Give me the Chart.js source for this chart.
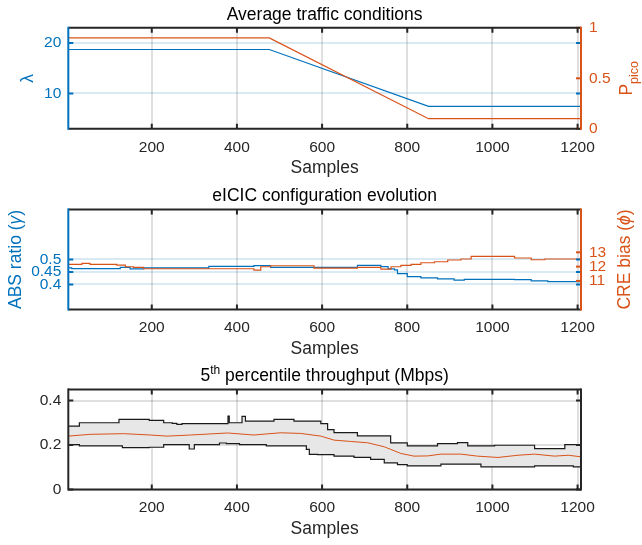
<!DOCTYPE html>
<html><head><meta charset="utf-8">
<script src="https://cdn.jsdelivr.net/npm/chart.js@4/dist/chart.umd.min.js"></script>
<style>
html,body{margin:0;padding:0;background:#fff;}
canvas{display:block;}
</style></head><body>
<canvas id="c1" width="642" height="180"></canvas>
<canvas id="c2" width="642" height="180"></canvas>
<canvas id="c3" width="642" height="185"></canvas>
<script>
// ---------- data ----------
const xTickValues = [200, 400, 600, 800, 1000, 1200];

// Panel 1: average traffic conditions
const trafficSamples = [4, 476, 850, 1208];
const lambdaValues   = [18.7, 18.7, 7.45, 7.45];
const picoValues     = [0.9, 0.9, 0.1, 0.1];
const lambdaTicks = [10, 20];
const picoTicks   = [0, 0.5, 1];

// Panel 2: eICIC configuration evolution
const absSamples = [4, 12, 126, 149, 181, 334, 440, 479, 683, 738, 755, 770, 777, 800, 832, 871, 910, 934, 1052, 1091, 1130, 1208];
const absValues  = [0.466, 0.463, 0.468, 0.462, 0.466, 0.472, 0.475, 0.468, 0.476, 0.471, 0.462, 0.458, 0.443, 0.4315, 0.426, 0.422, 0.417, 0.420, 0.419, 0.414, 0.411, 0.411];
const creSamples = [4, 36, 55, 118, 138, 157, 181, 440, 456, 479, 581, 683, 738, 762, 785, 809, 832, 864, 895, 926, 950, 1052, 1091, 1123, 1208];
const creValues  = [12.16, 12.23, 12.16, 12.11, 11.99, 11.95, 11.85, 11.76, 11.99, 12.06, 11.90, 11.95, 11.83, 11.99, 12.09, 12.16, 12.27, 12.34, 12.46, 12.53, 12.72, 12.60, 12.48, 12.53, 12.53];
const absTicks = [0.4, 0.45, 0.5];
const creTicks = [11, 12, 13];

// Panel 3: 5th percentile throughput
const upperSamples = [4, 30, 123, 194, 228, 248, 259, 271, 379, 382, 412, 420, 487, 534, 597, 613, 628, 683, 761, 800, 871, 918, 942, 1005, 1099, 1170, 1208];
const upperValues  = [0.285, 0.300, 0.315, 0.311, 0.300, 0.297, 0.293, 0.296, 0.330, 0.300, 0.329, 0.307, 0.315, 0.307, 0.296, 0.269, 0.256, 0.241, 0.210, 0.196, 0.206, 0.211, 0.196, 0.199, 0.184, 0.202, 0.202];
const lowerSamples = [4, 30, 131, 194, 228, 288, 300, 359, 375, 406, 469, 563, 570, 589, 628, 675, 714, 746, 777, 800, 879, 973, 1099, 1190, 1208];
const lowerValues  = [0.202, 0.196, 0.188, 0.190, 0.202, 0.182, 0.202, 0.209, 0.206, 0.202, 0.196, 0.180, 0.158, 0.157, 0.150, 0.144, 0.135, 0.120, 0.112, 0.106, 0.114, 0.102, 0.106, 0.102, 0.102];
const meanSamples  = [4, 55, 134, 197, 236, 291, 378, 440, 503, 550, 597, 628, 667, 707, 746, 785, 816, 848, 879, 926, 965, 1013, 1060, 1099, 1146, 1178, 1208];
const meanValues   = [0.240, 0.248, 0.251, 0.245, 0.240, 0.245, 0.254, 0.245, 0.255, 0.252, 0.240, 0.222, 0.216, 0.210, 0.192, 0.162, 0.150, 0.151, 0.159, 0.159, 0.150, 0.144, 0.154, 0.159, 0.150, 0.154, 0.147];
const thrTicks = [0, 0.2, 0.4];

// ---------- style ----------
const X_MIN = 4, X_MAX = 1208;
const BLUE = '#0072BD', ORANGE = '#D95319', INK = '#262626';
const FAM = '"Liberation Sans", Arial, Helvetica, sans-serif';
const TICK_FONT = {family: FAM, size: 15.5};
const GRID_GREY = 'rgba(38,38,38,0.15)';
const GRID_BLUE = 'rgba(0,114,189,0.15)';
const LBL = '17.5px ' + FAM;

function pts(xs, ys) { return xs.map((x, i) => ({x: x, y: ys[i]})); }
const fmt = v => String(Math.round(v * 1000) / 1000);

function xScale(h) {
  return {
    type: 'linear', position: 'bottom', min: X_MIN, max: X_MAX,
    afterBuildTicks: s => { s.ticks = xTickValues.map(v => ({value: v})); },
    afterFit: s => { s.height = h; },
    grid: {color: GRID_GREY, lineWidth: 2, drawTicks: false},
    border: {display: false},
    ticks: {autoSkip: false, maxRotation: 0, padding: 9.4, color: INK, font: TICK_FONT, callback: fmt}
  };
}
function yScale(pos, min, max, ticks, color, gridColor, width) {
  return {
    type: 'linear', position: pos, min: min, max: max,
    afterBuildTicks: s => { s.ticks = ticks.map(v => ({value: v})); },
    afterFit: s => { s.width = width; },
    grid: gridColor ? {color: gridColor, lineWidth: 2, drawTicks: false} : {display: false, drawTicks: false},
    border: {display: false},
    ticks: {autoSkip: false, padding: pos === 'left' ? 7 : 8, color: color, font: TICK_FONT, callback: fmt}
  };
}

function drawParts(ctx, parts, x, y, rot) {
  ctx.save();
  ctx.translate(x, y);
  ctx.rotate(rot || 0);
  ctx.textBaseline = 'middle';
  ctx.textAlign = 'left';
  let w = 0;
  parts.forEach(p => { ctx.font = p.font || LBL; p.w = ctx.measureText(p.t).width; w += p.w; });
  let cx = -w / 2;
  parts.forEach(p => {
    ctx.font = p.font || LBL;
    ctx.fillStyle = p.color;
    ctx.fillText(p.t, cx, p.dy || 0);
    cx += p.w;
  });
  ctx.restore();
}

function decor(cfg) {
  return {
    id: 'decor',
    afterDatasetsDraw(chart) {
      const ctx = chart.ctx;
      const {left, right, top, bottom} = chart.chartArea;
      const TL = 5;
      ctx.save();
      ctx.lineWidth = 2;
      ctx.lineCap = 'butt';
      ctx.strokeStyle = INK;
      chart.scales.x.ticks.forEach(t => {
        const px = chart.scales.x.getPixelForValue(t.value);
        ctx.beginPath();
        ctx.moveTo(px, bottom); ctx.lineTo(px, bottom - TL);
        ctx.moveTo(px, top); ctx.lineTo(px, top + TL);
        ctx.stroke();
      });
      const ys = chart.scales.y;
      ctx.strokeStyle = cfg.leftColor;
      ys.ticks.forEach(t => {
        const py = ys.getPixelForValue(t.value);
        ctx.beginPath();
        ctx.moveTo(left, py); ctx.lineTo(left + TL, py);
        ctx.moveTo(right, py); ctx.lineTo(right - TL, py);
        ctx.stroke();
      });
      if (chart.scales.y1) {
        const y1 = chart.scales.y1;
        ctx.strokeStyle = cfg.rightColor;
        y1.ticks.forEach(t => {
          const py = y1.getPixelForValue(t.value);
          ctx.beginPath();
          ctx.moveTo(right, py); ctx.lineTo(right - TL, py);
          ctx.stroke();
        });
      }
      ctx.strokeStyle = INK;
      ctx.beginPath();
      ctx.moveTo(left, top); ctx.lineTo(right, top);
      ctx.moveTo(left, bottom); ctx.lineTo(right, bottom);
      ctx.stroke();
      ctx.lineCap = 'square';
      ctx.strokeStyle = cfg.leftColor;
      ctx.beginPath(); ctx.moveTo(left, top); ctx.lineTo(left, bottom); ctx.stroke();
      ctx.strokeStyle = cfg.rightColor;
      ctx.beginPath(); ctx.moveTo(right, top); ctx.lineTo(right, bottom); ctx.stroke();
      ctx.restore();

      const cxm = (left + right) / 2, cym = (top + bottom) / 2;
      drawParts(ctx, cfg.title, cxm, top - 13, 0);
      drawParts(ctx, [{t: 'Samples', color: INK}], cxm, bottom + 39.5, 0);
      if (cfg.leftLabel) drawParts(ctx, cfg.leftLabel, cfg.leftLabelX, cym, -Math.PI / 2);
      if (cfg.rightLabel) drawParts(ctx, cfg.rightLabel, cfg.rightLabelX, cym, -Math.PI / 2);
    }
  };
}

function baseOptions(top, right, scales) {
  return {
    responsive: false, animation: false, events: [],
    layout: {padding: {top: top, left: 0, right: right, bottom: 0}},
    plugins: {legend: {display: false}, tooltip: {enabled: false}, title: {display: false},
              filler: {drawTime: 'beforeDatasetsDraw'}},
    elements: {point: {radius: 0}, line: {tension: 0}},
    scales: scales
  };
}

// ---------- panel 1 ----------
new Chart(document.getElementById('c1'), {
  type: 'line',
  data: {datasets: [
    {data: pts(trafficSamples, picoValues), yAxisID: 'y1', borderColor: ORANGE, borderWidth: 1.2, fill: false},
    {data: pts(trafficSamples, lambdaValues), yAxisID: 'y', borderColor: BLUE, borderWidth: 1.2, fill: false}
  ]},
  options: baseOptions(27.8, 0, {
    x: xScale(180 - 128.8),
    y: yScale('left', 3, 23, lambdaTicks, BLUE, GRID_BLUE, 68.3),
    y1: yScale('right', 0, 1, picoTicks, ORANGE, null, 61)
  }),
  plugins: [decor({
    leftColor: BLUE, rightColor: ORANGE,
    title: [{t: 'Average traffic conditions', color: '#000'}],
    leftLabel: [{t: 'λ', color: BLUE}], leftLabelX: 28.5,
    rightLabel: [{t: 'P', color: ORANGE}, {t: 'pico', color: ORANGE, font: '12.5px ' + FAM, dy: 7.5}], rightLabelX: 626.7
  })]
});

// ---------- panel 2 ----------
new Chart(document.getElementById('c2'), {
  type: 'line',
  data: {datasets: [
    {data: pts(creSamples, creValues), yAxisID: 'y1', borderColor: ORANGE, borderWidth: 1.2, stepped: 'before', fill: false},
    {data: pts(absSamples, absValues), yAxisID: 'y', borderColor: BLUE, borderWidth: 1.2, stepped: 'before', fill: false}
  ]},
  options: baseOptions(29.4, 0, {
    x: xScale(180 - 129.5),
    y: yScale('left', 0.3, 0.7, absTicks, BLUE, GRID_BLUE, 68.3),
    y1: yScale('right', 9, 16, creTicks, ORANGE, null, 61)
  }),
  plugins: [decor({
    leftColor: BLUE, rightColor: ORANGE,
    title: [{t: 'eICIC configuration evolution', color: '#000'}],
    leftLabel: [{t: 'ABS ratio (', color: BLUE}, {t: 'γ', color: BLUE, font: 'italic 17.5px ' + FAM}, {t: ')', color: BLUE}], leftLabelX: 16.3,
    rightLabel: [{t: 'CRE bias (', color: ORANGE}, {t: 'ϕ', color: ORANGE, font: 'italic 17.5px ' + FAM}, {t: ')', color: ORANGE}], rightLabelX: 624.8
  })]
});

// ---------- panel 3 ----------
new Chart(document.getElementById('c3'), {
  type: 'line',
  data: {datasets: [
    {data: pts(meanSamples, meanValues), yAxisID: 'y', borderColor: ORANGE, borderWidth: 1, fill: false},
    {data: pts(upperSamples, upperValues), yAxisID: 'y', borderColor: '#1a1a1a', borderWidth: 1.2, stepped: 'before',
     fill: '+1', backgroundColor: 'rgb(231,231,231)'},
    {data: pts(lowerSamples, lowerValues), yAxisID: 'y', borderColor: '#1a1a1a', borderWidth: 1.2, stepped: 'before', fill: false}
  ]},
  options: baseOptions(29.4, 61, {
    x: xScale(185 - 129.5),
    y: yScale('left', 0, 0.45, thrTicks, INK, GRID_GREY, 68.3)
  }),
  plugins: [decor({
    leftColor: INK, rightColor: INK,
    title: [{t: '5', color: '#000'}, {t: 'th', color: '#000', font: '12px ' + FAM, dy: -6}, {t: ' percentile throughput (Mbps)', color: '#000'}]
  })]
});
</script>
</body></html>
